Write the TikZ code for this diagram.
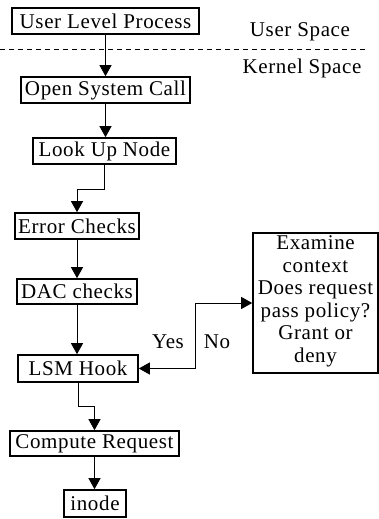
\documentclass[tikz,border=0pt]{standalone}
\usepackage{fontspec}
\setmainfont{Liberation Serif}[LetterSpace=3]
\usetikzlibrary{arrows.meta}
\begin{document}
\begin{tikzpicture}[x=1pt,y=-1pt,
  box/.style={draw,line width=1.6pt,inner sep=0pt,minimum width=#1},
  lbl/.style={inner sep=0pt},
  conn/.style={line width=0.8pt,-{Triangle[length=11pt,width=12pt]}},
  biconn/.style={line width=0.8pt,{Triangle[length=11pt,width=12pt]}-{Triangle[length=11pt,width=12pt]}},
  font=\fontsize{21}{22.5}\selectfont]
\useasboundingbox (0,0) rectangle (379,519);
\node[box=187,minimum height=26] (ulp) at (105.5,21) {User Level Process};
\node[lbl] (us) at (300,32) {User Space};
\node[lbl] (ks) at (302,68) {Kernel Space};
\coordinate (dl) at (0,49);
\coordinate (dr) at (367,49);
\draw[line width=0.7pt,dash pattern=on 5pt off 4pt] (dl) -- (dr);
\node[box=169,minimum height=26] (osc) at (105.5,90) {Open System Call};
\node[box=143,minimum height=26] (lun) at (104.5,151) {Look Up Node};
\node[box=124,minimum height=26] (err) at (77,226) {Error Checks};
\node[box=120,minimum height=25] (dac) at (77,291.5) {DAC checks};
\node[box=120,minimum height=27] (lsm) at (78,368.5) {LSM Hook};
\node[box=125,minimum height=140] (exam) at (315.5,303) {};
\node[lbl,align=center] (examt) at (315.5,301.5) {Examine\\context\\Does request\\pass policy?\\Grant or\\deny};
\node[box=169,minimum height=25] (cr) at (94.5,443.5) {Compute Request};
\node[box=62,minimum height=27] (inode) at (95,503.5) {inode};
\node[lbl] (yes) at (168,342) {Yes};
\node[lbl] (no) at (217,342) {No};
\draw[conn] (ulp.south) -- (ulp.south |- osc.north);
\draw[conn] (osc.south) -- (osc.south |- lun.north);
\draw[conn] (lun.south) -- ++(0,25) -| (err.north);
\draw[conn] (err.south) -- (dac.north);
\draw[conn] (dac.south) -- (dac.south |- lsm.north);
\draw[biconn] (lsm.east) -- ++(57,0) |- (exam.west);
\draw[conn] (lsm.south) -- ++(0,24) -| (cr.north);
\draw[conn] (cr.south) -- (cr.south |- inode.north);
\end{tikzpicture}
\end{document}
